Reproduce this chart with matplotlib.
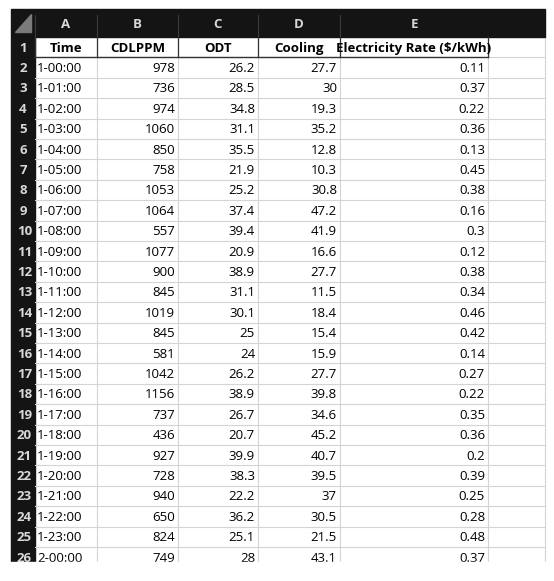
import matplotlib.pyplot as plt
from matplotlib.patches import Rectangle, Polygon

times = ["1-%02d:00" % h for h in range(24)] + ["2-00:00"]
cdlppm = [978, 736, 974, 1060, 850, 758, 1053, 1064, 557, 1077, 900, 845, 1019,
          845, 581, 1042, 1156, 737, 436, 927, 728, 940, 650, 824, 749]
odt = ["26.2", "28.5", "34.8", "31.1", "35.5", "21.9", "25.2", "37.4", "39.4", "20.9",
       "38.9", "31.1", "30.1", "25", "24", "26.2", "38.9", "26.7", "20.7", "39.9",
       "38.3", "22.2", "36.2", "25.1", "28"]
cooling = ["27.7", "30", "19.3", "35.2", "12.8", "10.3", "30.8", "47.2", "41.9", "16.6",
           "27.7", "11.5", "18.4", "15.4", "15.9", "27.7", "39.8", "34.6", "45.2", "40.7",
           "39.5", "37", "30.5", "21.5", "43.1"]
rate = ["0.11", "0.37", "0.22", "0.36", "0.13", "0.45", "0.38", "0.16", "0.3", "0.12",
        "0.38", "0.34", "0.46", "0.42", "0.14", "0.27", "0.22", "0.35", "0.36", "0.2",
        "0.39", "0.25", "0.28", "0.48", "0.37"]
col_letters = ["A", "B", "C", "D", "E"]
headers = ["Time", "CDLPPM", "ODT", "Cooling", "Electricity Rate ($/kWh)"]

W, H = 554, 581
fig = plt.figure(figsize=(W / 100, H / 100), dpi=100)
ax = fig.add_axes([0, 0, 1, 1])
ax.set_xlim(0, W)
ax.set_ylim(H, 0)
ax.axis("off")
plt.rcParams['font.family'] = ['Open Sans', 'DejaVu Sans']

left, top = 11, 9
edges = [11, 35, 97, 178, 258, 340, 488, 545]
hdr_h = 28
row_h = 20.4
bottom_clip = 562
fs = 9.5
grid = "#d4d4d4"

# header band (column letters)
ax.add_patch(Rectangle((left, top), 545 - left, hdr_h, color="#141414"))
ax.add_patch(Polygon([[31, 14], [31, 32], [15, 32]], color="#7a7a7a"))
for i, c in enumerate(col_letters):
    x0, x1 = edges[i + 1], edges[i + 2]
    ax.text((x0 + x1) / 2, top + hdr_h / 2 + 1, c, ha="center", va="center",
            color="#d8d8d8", fontsize=fs, fontweight="bold")
    ax.plot([x0, x0], [top + 6, top + hdr_h], color="#3a3a3a", lw=0.8)

rows = [headers] + [[t, str(a), b, c, d] for t, a, b, c, d in zip(times, cdlppm, odt, cooling, rate)]
y0 = top + hdr_h
ax.add_patch(Rectangle((left, y0), edges[1] - left, bottom_clip - y0, color="#141414"))
for r, vals in enumerate(rows):
    yt = y0 + r * row_h
    yc = yt + row_h / 2 + 1
    ax.text(edges[1] - 3 if r >= 9 else (left + edges[1]) / 2, yc, str(r + 1),
            ha="right" if r >= 9 else "center", va="center", color="#d8d8d8",
            fontsize=fs, fontweight="bold")
    ax.plot([edges[1], 545], [yt + row_h, yt + row_h], color=grid, lw=0.8)
    for i, v in enumerate(vals):
        x0, x1 = edges[i + 1], edges[i + 2]
        if r == 0:
            ax.text((x0 + x1) / 2, yc, v, ha="center", va="center", fontsize=fs,
                    fontweight="bold", color="black")
        elif i == 0:
            ax.text(x0 + 2, yc, v, ha="left", va="center", fontsize=fs, color="black")
        else:
            ax.text(x1 - 3, yc, v, ha="right", va="center", fontsize=fs, color="black")

for x in edges[2:]:
    ax.plot([x, x], [y0, bottom_clip], color=grid, lw=0.8, zorder=0)
# header row borders
for x in edges[1:7]:
    ax.plot([x, x], [y0, y0 + row_h], color="#333333", lw=0.9)
ax.plot([edges[1], edges[6]], [y0 + row_h, y0 + row_h], color="#333333", lw=1.0)

ax.add_patch(Rectangle((0, bottom_clip), W, H - bottom_clip, color="white", zorder=10))
fig.savefig("out.png", dpi=100)
